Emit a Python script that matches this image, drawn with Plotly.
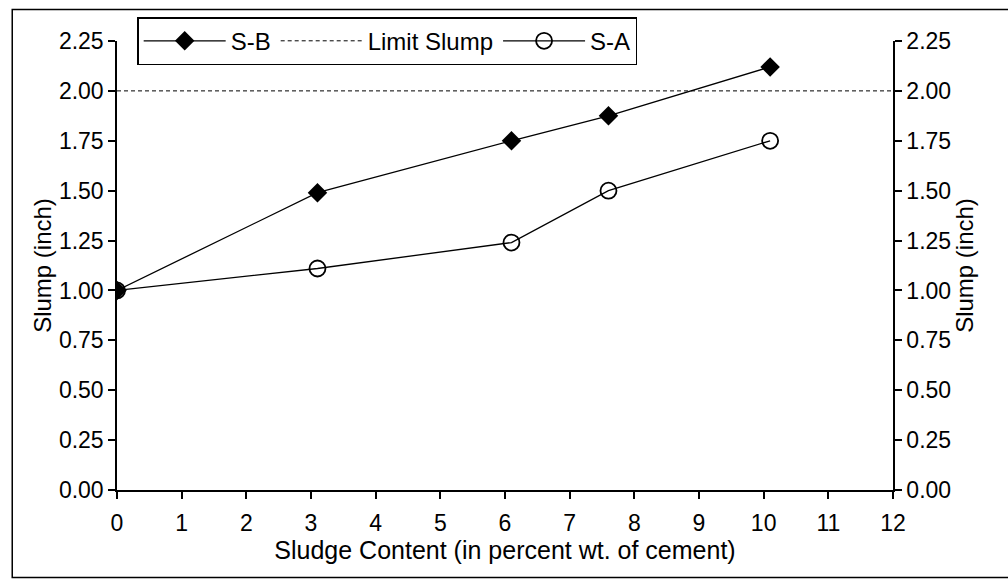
import plotly.graph_objects as go

x_sb = [0, 3.1, 6.1, 7.6, 10.1]
y_sb = [1.00, 1.49, 1.75, 1.875, 2.12]
x_sa = [0, 3.1, 6.1, 7.6, 10.1]
y_sa = [1.00, 1.11, 1.24, 1.50, 1.75]
x_limit = [0, 12]
y_limit = [2.0, 2.0]
y_ticks = [0, 0.25, 0.5, 0.75, 1.0, 1.25, 1.5, 1.75, 2.0, 2.25]
x_ticks = list(range(0, 13))

FONT = "Liberation Sans, Arial, sans-serif"

fig = go.Figure()
fig.add_trace(go.Scatter(x=x_sb, y=y_sb, name="S-B", mode="lines+markers",
                         line=dict(color="black", width=1.3),
                         marker=dict(symbol="diamond", size=15, color="black")))
fig.add_trace(go.Scatter(x=x_limit, y=y_limit, name="Limit Slump", mode="lines",
                         line=dict(color="black", width=1, dash="4px,3px")))
fig.add_trace(go.Scatter(x=x_sa, y=y_sa, name="S-A", mode="lines+markers",
                         line=dict(color="black", width=1.3),
                         marker=dict(symbol="circle-open", size=16, color="black",
                                     line=dict(width=1.8, color="black"))))
fig.add_trace(go.Scatter(x=x_limit, y=y_limit, yaxis="y2", mode="lines",
                         line=dict(width=0), showlegend=False, hoverinfo="skip"))

axis_common = dict(showline=True, linecolor="black", linewidth=1.5, ticks="outside",
                   ticklen=7, tickwidth=1.5, tickcolor="black", showgrid=False,
                   zeroline=False, tickfont=dict(family=FONT, size=23, color="black"))

fig.update_layout(
    width=1008, height=587,
    margin=dict(l=117, r=115, t=41, b=97),
    paper_bgcolor="white", plot_bgcolor="white",
    font=dict(family=FONT, color="black"),
    xaxis=dict(range=[0, 12], tickvals=x_ticks, ticklabelstandoff=5, title=dict(
        text="Sludge Content (in percent wt. of cement)",
        font=dict(family=FONT, size=25), standoff=0), **axis_common),
    yaxis=dict(range=[0, 2.25], tickvals=y_ticks, tickformat=".2f",
               title=dict(text="Slump (inch)", font=dict(family=FONT, size=24), standoff=0),
               **axis_common),
    yaxis2=dict(range=[0, 2.25], tickvals=y_ticks, tickformat=".2f", overlaying="y",
                side="right",
                title=dict(text="Slump (inch)", font=dict(family=FONT, size=24), standoff=0),
                **axis_common),
    legend=dict(orientation="h", x=0.026, y=1.053, xanchor="left", yanchor="top",
                bordercolor="black", borderwidth=1.5, bgcolor="white",
                font=dict(family=FONT, size=24, color="black"), itemwidth=82,
                tracegroupgap=0),
    showlegend=True,
)
fig.add_shape(type="rect", xref="paper", yref="paper", x0=-0.135, x1=1.15, y0=-0.195, y1=1.07,
              line=dict(color="black", width=1.5), layer="below")
fig.write_html("out.html")
